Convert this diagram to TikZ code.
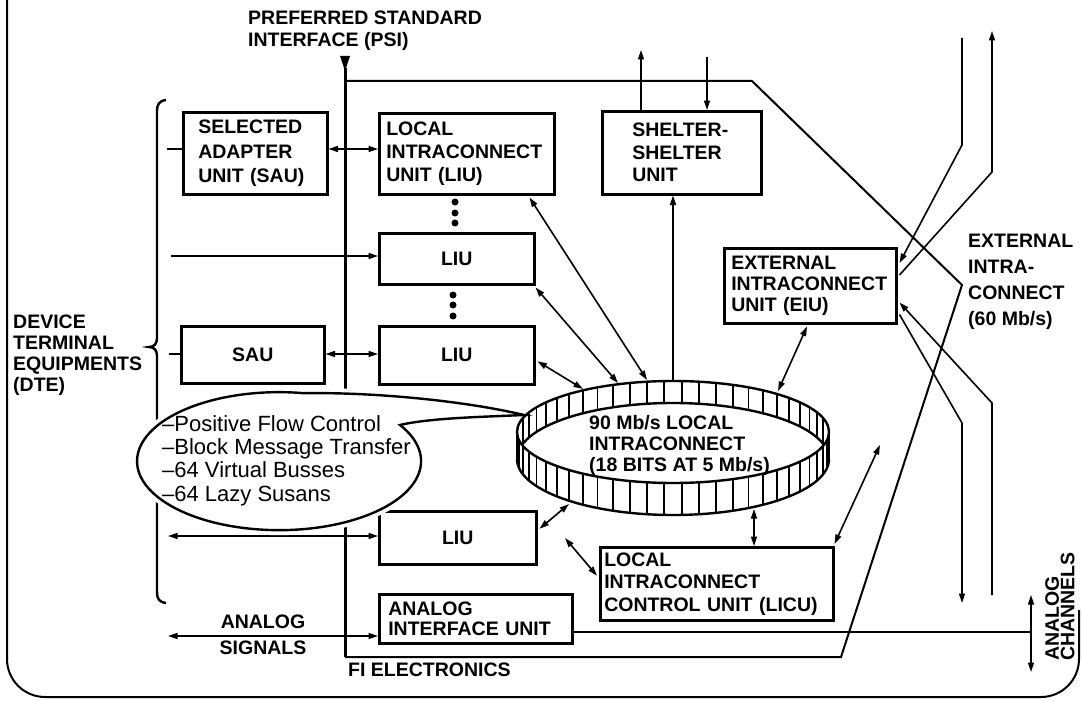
\documentclass[tikz,border=0pt]{standalone}
\usepackage{fontspec}
\setmainfont{Liberation Sans}
\usetikzlibrary{arrows.meta,calc}
\newcommand{\myF}[1]{\bfseries\fontsize{19.5}{#1}\selectfont}
\begin{document}
\begin{tikzpicture}[x=1pt,y=-1pt,
  >={Triangle[length=9.5pt,width=6pt]},
  box/.style={draw, line width=2.5pt, anchor=north west, align=left, inner ysep=0pt, font={\myF{23}}},
  lbl/.style={inner sep=0pt, anchor=north west, align=left, font={\myF{23}}},
  conn/.style={line width=1.6pt},
  frame/.style={line width=2pt},
  dotm/.style={fill, circle, inner sep=0pt, minimum size=7pt}]
\useasboundingbox (0,0) rectangle (1082,701);

% outer frame
\draw[frame, rounded corners=38pt] (7,-5) -- (7,697) -- (1079,697) -- (1079,610);

% boxes
\node[box, minimum width=144pt, minimum height=82pt, text width=114pt, inner xsep=15pt, font={\myF{24.5}}] (sau1) at (182,111) {SELECTED\\ADAPTER\\UNIT (SAU)};
\node[box, minimum width=175pt, minimum height=81pt, text width=161pt, inner xsep=7pt] (liu1) at (378,112) {LOCAL\\INTRACONNECT\\UNIT (LIU)};
\node[box, minimum width=159pt, minimum height=83pt, text width=99pt, inner xsep=30pt, font={\myF{22.5}}] (ss) at (601,110) {SHELTER-\\SHELTER\\UNIT};
\node[box, align=center, minimum width=155pt, minimum height=51pt, inner xsep=0pt] (liu2) at (378,232) {LIU};
\node[box, align=center, minimum width=155pt, minimum height=58pt, inner xsep=0pt] (liu3) at (378,325) {LIU};
\node[box, align=center, minimum width=143pt, minimum height=57pt, inner xsep=0pt] (sau2) at (180,325) {SAU};
\node[box, minimum width=172pt, minimum height=75pt, text width=158pt, inner xsep=7pt, font={\myF{21}}] (eiu) at (723,247) {EXTERNAL\\INTRACONNECT\\UNIT (EIU)};
\node[box, align=center, minimum width=157pt, minimum height=53pt, inner xsep=0pt] (liu4) at (378,510) {LIU};
\node[box, minimum width=233pt, minimum height=73pt, text width=225pt, inner xsep=4pt, font={\myF{22.5}}] (licu) at (599,546) {LOCAL\\INTRACONNECT\\CONTROL UNIT (LICU)};
\node[box, minimum width=193pt, minimum height=49pt, text width=175pt, inner xsep=9pt, font={\myF{20}}] (aiu) at (378,593) {ANALOG\\INTERFACE UNIT};

% dots
\node[dotm] (d1) at (455,202) {};
\node[dotm] (d2) at (455,213) {};
\node[dotm] (d3) at (455,223) {};
\node[dotm] (d4) at (453,295) {};
\node[dotm] (d5) at (453,305) {};
\node[dotm] (d6) at (453,316) {};

% labels
\node[lbl, font={\myF{22}}] (psi) at (248,11) {PREFERRED STANDARD\\INTERFACE (PSI)};
\node[lbl, font={\myF{21}}] (dte) at (13,315) {DEVICE\\TERMINAL\\EQUIPMENTS\\(DTE)};
\node[lbl, font={\myF{26}}] (ext) at (968,234) {EXTERNAL\\INTRA-\\CONNECT\\(60 Mb/s)};
\node[inner sep=0pt, font={\myF{20}}] (an) at (263,622) {ANALOG};
\node[inner sep=0pt, font={\myF{20}}] (sg) at (263,648) {SIGNALS};
\node[inner sep=0pt, anchor=west, font={\myF{20}}] (fi) at (348,670) {FI ELECTRONICS};
\node[lbl, rotate=90, font={\bfseries\fontsize{19.5}{15.5}\selectfont}] (ch) at (1045,661) {ANALOG\\CHANNELS};

% PSI marker and bus
\fill (340,56) -- (350,56) -- (345,71) -- cycle;
\coordinate (psiTop) at (345,68);
\coordinate (psiBot) at (345,657);
\draw[line width=3pt] (psiTop) -- (psiBot);
\coordinate (fa) at (345,81);
\coordinate (fb) at (752,81);
\coordinate (fc) at (962,285);
\coordinate (fd) at (841,657);
\draw[frame] (fa) -- (fb) -- (fc) -- (fd) -- (psiBot);

% bracket
\draw[line width=2.4pt] (166,100) .. controls (159,101) and (157,104) .. (157,112) -- (157,338) .. controls (157,344) and (154,347) .. (149,347) .. controls (154,347) and (157,350) .. (157,356) -- (157,592) .. controls (157,599) and (159,602) .. (166,603);

% left side connectors
\coordinate (s1) at (167,149);
\draw[conn] (s1) -- (s1 -| sau1.west);
\draw[conn,<->] (s1 -| sau1.east) -- (s1 -| liu1.west);
\coordinate (l2) at (171,256);
\draw[conn,->] (l2) -- (l2 -| liu2.west);
\coordinate (s2) at (169,354);
\draw[conn] (s2) -- (s2 -| sau2.west);
\draw[conn,<->] (s2 -| sau2.east) -- (s2 -| liu3.west);
\coordinate (l4) at (168,536);
\draw[conn,<->] (l4) -- (l4 -| liu4.west);
\coordinate (as) at (168,636);
\draw[conn,<->] (as) -- (as -| aiu.west);

% analog channels
\coordinate (ac) at (1031,632);
\coordinate (acT) at (1031,595);
\coordinate (acB) at (1031,672);
\draw[conn] (ac -| aiu.east) -- (ac);
\draw[conn,<->] (acT) -- (acB);

% shelter arrows
\coordinate (ssUp) at (641,50);
\coordinate (ssDn) at (707,57);
\draw[conn,->] (ssUp |- ss.north) -- (ssUp);
\draw[conn,->] (ssDn) -- (ssDn |- ss.north);

% bubble
\def\bubblepath{(400,425) arc[start angle=-31.6, end angle=280, x radius=142, y radius=69] .. controls (380,392) and (470,402) .. (524,415) .. controls (480,417) and (430,418) .. (400,425) -- cycle}
\path[draw=white, fill=white, line width=10pt] \bubblepath;
\draw[line width=2.4pt, fill=white] \bubblepath;
\node[inner sep=0pt, anchor=north west, align=left, font={\fontsize{22}{23.3}\selectfont}] (bt) at (162,415) {\textendash Positive Flow Control\\\textendash Block Message Transfer\\\textendash 64 Virtual Busses\\\textendash 64 Lazy Susans};

% ring
\draw[line width=2.4pt] (673,432) ellipse [x radius=156, y radius=51];
\draw[line width=2.4pt] (829,459) arc[start angle=0, end angle=180, x radius=156, y radius=56];
\draw[line width=2.4pt] ({673+156*cos(195)},{459+56*sin(195)}) arc[start angle=195, end angle=345, x radius=156, y radius=56];
\foreach \i in {0,...,27} {
  \pgfmathsetmacro\a{3.2143+\i*6.4286}
  \draw[line width=1.8pt] ({673+156*cos(\a)},{432+51*sin(\a)}) -- ({673+156*cos(\a)},{459+56*sin(\a)});
}
\foreach \i in {30,...,53} {
  \pgfmathsetmacro\a{3.2143+\i*6.4286}
  \draw[line width=1.8pt] ({673+156*cos(\a)},{432+51*sin(\a)}) -- ({673+156*cos(\a)},{459+56*sin(\a)});
}
\node[lbl, font={\myF{21}}] (ring) at (589,415) {90 Mb/s LOCAL\\INTRACONNECT\\(18 BITS AT 5 Mb/s)};

% ring connectors
\coordinate (rS) at (673,381);
\draw[conn,->] (rS) -- (rS |- ss.south);
\coordinate (r1) at (647,380);
\draw[conn,<->] ($(liu1.south east)+(-26,2)$) -- (r1);
\coordinate (r2) at (618,383);
\draw[conn,<->] ($(liu2.south east)+(0,2)$) -- (r2);
\coordinate (r3) at (583,389);
\draw[conn,<->] ($(liu3.east)+(2,6)$) -- (r3);
\coordinate (r4) at (778,391);
\draw[conn,<->] ($(eiu.south west)+(84,2)$) -- (r4);
\coordinate (r5) at (569,504);
\draw[conn,<->] (r5) -- ($(liu4.east)+(2,-9)$);
\coordinate (r6) at (754,509);
\draw[conn,<->] (r6) -- (r6 |- licu.north);
\coordinate (l7) at (565,538);
\draw[conn,<->] (l7) -- ($(licu.west)+(-2,-8)$);
\coordinate (l8) at (880,445);
\draw[conn,<->] ($(licu.north east)+(0,-2)$) -- (l8);

% external intraconnect lines
\coordinate (e1a) at (962,38);
\coordinate (e1b) at (962,145);
\draw[conn,->] (e1a) -- (e1b) -- ($(eiu.north east)+(2,16)$);
\coordinate (e2a) at (992,172);
\coordinate (e2b) at (992,31);
\draw[conn,->] ($(eiu.north east)+(2,28)$) -- (e2a) -- (e2b);
\coordinate (e3a) at (992,595);
\coordinate (e3b) at (992,403);
\draw[conn,->] (e3a) -- (e3b) -- ($(eiu.south east)+(2,-22)$);
\coordinate (e4a) at (962,423);
\coordinate (e4b) at (962,603);
\draw[conn,->] ($(eiu.south east)+(2,-10)$) -- (e4a) -- (e4b);
\end{tikzpicture}
\end{document}
